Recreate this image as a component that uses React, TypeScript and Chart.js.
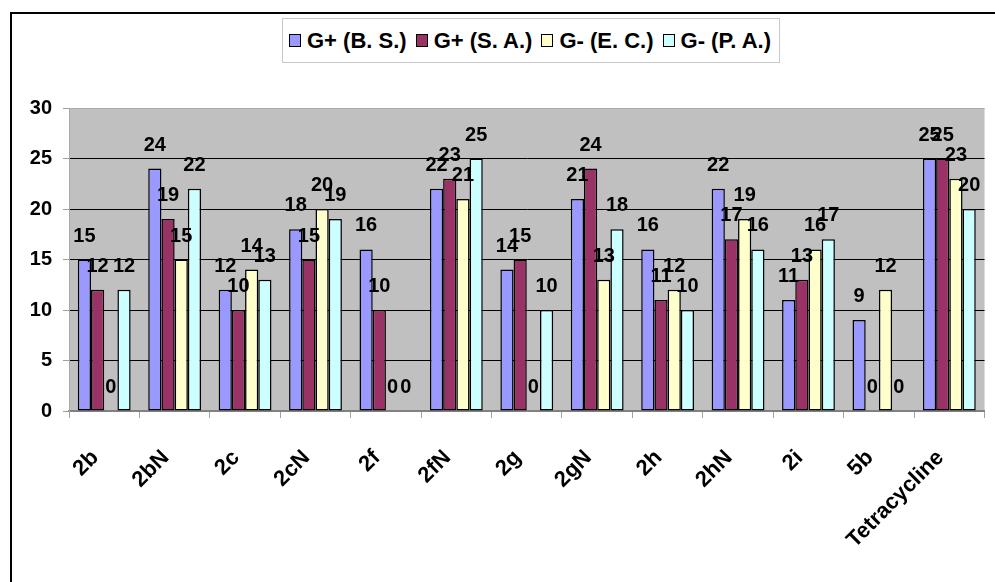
import React, { useEffect, useRef } from "react";
import { Chart, registerables } from "chart.js";

Chart.register(...registerables);

const categories = ["2b", "2bN", "2c", "2cN", "2f", "2fN", "2g", "2gN", "2h", "2hN", "2i", "5b", "Tetracycline"];
const seriesNames = ["G+ (B. S.)", "G+ (S. A.)", "G- (E. C.)", "G- (P. A.)"];
const bsValues = [15, 24, 12, 18, 16, 22, 14, 21, 16, 22, 11, 9, 25];
const saValues = [12, 19, 10, 15, 10, 23, 15, 24, 11, 17, 13, 0, 25];
const ecValues = [0, 15, 14, 20, 0, 21, 0, 13, 12, 19, 16, 12, 23];
const paValues = [12, 22, 13, 19, 0, 25, 10, 18, 10, 16, 17, 0, 20];
const yTicks = [0, 5, 10, 15, 20, 25, 30];
const seriesColors = ["#9999FF", "#993366", "#FFFFCC", "#CCFFFF"];

const FONT = '"Liberation Sans", Arial, sans-serif';
const W = 995;
const H = 582;

const plotBackground = {
  id: "plotBackground",
  beforeDraw(chart: any) {
    const { ctx, chartArea } = chart;
    ctx.save();
    ctx.fillStyle = "#C0C0C0";
    ctx.fillRect(chartArea.left, chartArea.top, chartArea.right - chartArea.left, chartArea.bottom - chartArea.top);
    ctx.restore();
  },
};

const valueLabels = {
  id: "valueLabels",
  afterDatasetsDraw(chart: any) {
    const ctx = chart.ctx;
    ctx.save();
    ctx.font = `bold 20px ${FONT}`;
    ctx.fillStyle = "#000";
    ctx.textAlign = "center";
    ctx.textBaseline = "alphabetic";
    chart.data.datasets.forEach((ds: any, i: number) => {
      const meta = chart.getDatasetMeta(i);
      meta.data.forEach((el: any, j: number) => {
        ctx.fillText(String(ds.data[j]), el.x, el.y - 18);
      });
    });
    ctx.restore();
  },
};

export default function App() {
  const canvasRef = useRef<HTMLCanvasElement | null>(null);

  useEffect(() => {
    document.body.style.margin = "0";
    const canvas = canvasRef.current;
    if (!canvas) return;
    const series = [bsValues, saValues, ecValues, paValues];
    const chart = new Chart(canvas, {
      type: "bar",
      data: {
        labels: categories,
        datasets: series.map((vals, i) => ({
          label: seriesNames[i],
          data: vals,
          backgroundColor: seriesColors[i],
          borderColor: "#000",
          borderWidth: 1.5,
          borderSkipped: false,
          barPercentage: 1,
          categoryPercentage: 0.75,
        })),
      },
      options: {
        responsive: false,
        maintainAspectRatio: false,
        animation: false,
        devicePixelRatio: 1,
        layout: { padding: { top: 108, left: 0, right: 0, bottom: 0 } },
        plugins: {
          legend: { display: false },
          tooltip: { enabled: false },
          title: { display: false },
        },
        scales: {
          x: {
            offset: true,
            afterFit(scale: any) {
              scale.height = H - 411;
            },
            grid: {
              offset: true,
              drawOnChartArea: false,
              drawTicks: true,
              tickLength: 7,
              tickColor: "#a0a0a0",
            },
            border: { color: "#808080", width: 1.5 },
            ticks: {
              autoSkip: false,
              maxRotation: 45,
              minRotation: 45,
              padding: 27,
              labelOffset: -9,
              color: "#000",
              font: { family: FONT, size: 22, weight: "bold" },
            },
          },
          y: {
            min: 0,
            max: 30,
            afterFit(scale: any) {
              scale.width = 69;
            },
            afterBuildTicks(scale: any) {
              scale.ticks = yTicks.map((v) => ({ value: v }));
            },
            grid: {
              color: (c: any) => {
                const v = c.tick ? c.tick.value : null;
                if (v === 0) return "#808080";
                if (v === 30) return "#a8a8a8";
                return "#000";
              },
              lineWidth: 1,
              tickLength: 6,
              tickColor: "#a0a0a0",
            },
            border: { color: "#a8a8a8", width: 1 },
            ticks: {
              padding: 11,
              color: "#000",
              font: { family: FONT, size: 20, weight: "bold" },
            },
          },
        },
      },
      plugins: [plotBackground, valueLabels],
    });
    return () => chart.destroy();
  }, []);

  return (
    <div style={{ position: "relative", width: W, height: H, overflow: "hidden", background: "#fff" }}>
      <div
        style={{
          position: "absolute",
          left: 10,
          top: 12,
          width: 1200,
          height: 1000,
          border: "2px solid #000",
          boxSizing: "border-box",
        }}
      />
      <canvas ref={canvasRef} width={W} height={H} style={{ position: "absolute", left: 0, top: 0, width: W, height: H }} />
      <div
        style={{
          position: "absolute",
          left: 282,
          top: 18,
          width: 498,
          height: 45,
          border: "1.5px solid #c8c8c8",
          boxSizing: "border-box",
          display: "flex",
          alignItems: "center",
          paddingLeft: 6,
          background: "#fff",
          whiteSpace: "nowrap",
        }}
      >
        {seriesNames.map((name, i) => (
          <div key={name} style={{ display: "flex", alignItems: "center", marginRight: 9 }}>
            <span
              style={{
                display: "inline-block",
                width: 12,
                height: 13,
                border: "1.5px solid #000",
                boxSizing: "border-box",
                background: seriesColors[i],
                marginRight: 6,
              }}
            />
            <span style={{ font: `bold 22px ${FONT}`, color: "#000", lineHeight: "26px" }}>{name}</span>
          </div>
        ))}
      </div>
    </div>
  );
}
